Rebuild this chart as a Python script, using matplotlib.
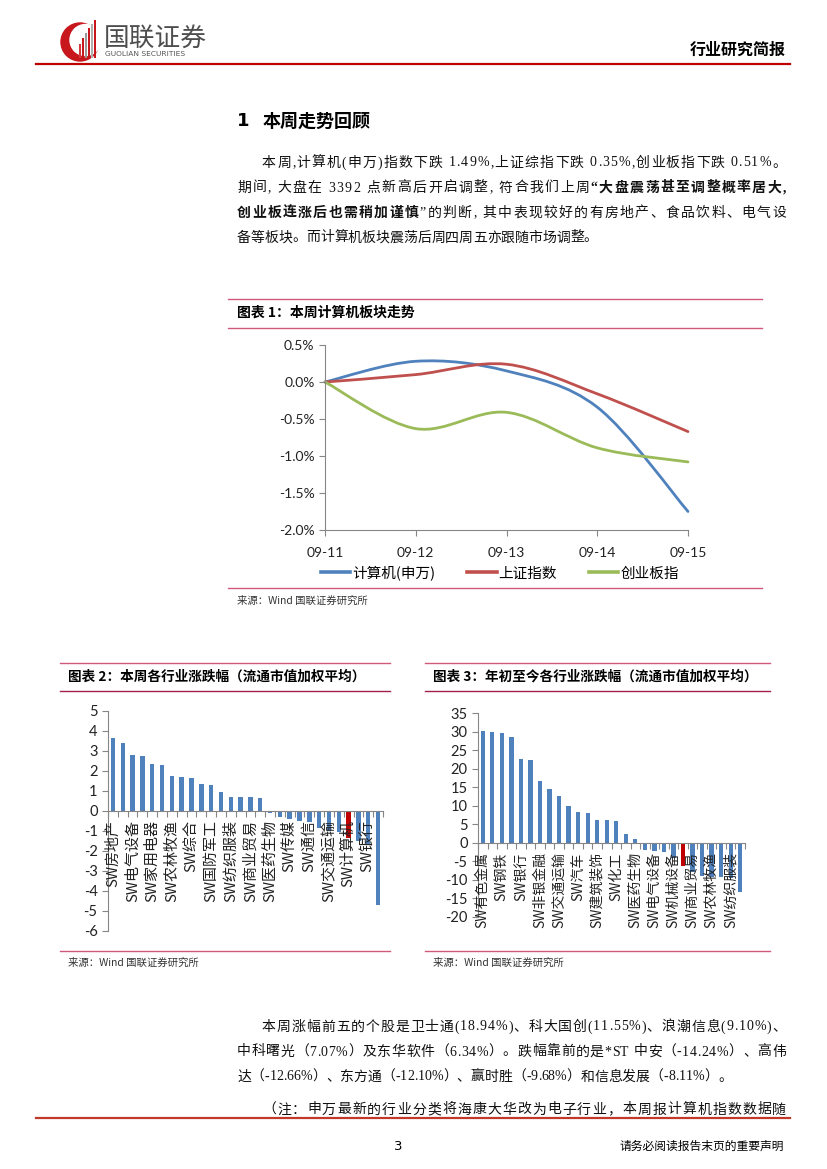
import matplotlib
matplotlib.use('Agg')
import matplotlib.pyplot as plt
import numpy as np
from matplotlib.path import Path
from matplotlib.patches import PathPatch, Circle, Rectangle
from matplotlib.lines import Line2D

plt.rcParams['font.family'] = ['Noto Sans CJK SC', 'DejaVu Sans']
plt.rcParams['axes.unicode_minus'] = False

W, H = 827, 1169

# ---- 图表1 数据 ----
dates = ['09-11', '09-12', '09-13', '09-14', '09-15']
computer = [0.0, 0.28, 0.15, -0.34, -1.75]
shanghai = [0.0, 0.10, 0.24, -0.16, -0.67]
chinext = [0.0, -0.63, -0.41, -0.89, -1.08]
series_names = ['计算机(申万)', '上证指数', '创业板指']
line_colors = ['#4F81BD', '#C0504D', '#9BBB59']

# ---- 图表2 数据（本周） ----
week_labels = ['SW房地产', '', 'SW电气设备', '', 'SW家用电器', '', 'SW农林牧渔', '',
               'SW综合', '', 'SW国防军工', '', 'SW纺织服装', '', 'SW商业贸易', '',
               'SW医药生物', '', 'SW传媒', '', 'SW通信', '', 'SW交通运输', '',
               'SW计算机', '', 'SW银行', '']
week_values = [3.65, 3.37, 2.77, 2.75, 2.32, 2.27, 1.75, 1.68, 1.65, 1.35, 1.28, 0.93,
               0.68, 0.67, 0.68, 0.65, -0.10, -0.30, -0.42, -0.52, -0.58, -0.85,
               -1.00, -1.05, -1.38, -1.50, -1.65, -4.72]

# ---- 图表3 数据（年初至今） ----
ytd_labels = ['SW有色金属', '', 'SW钢铁', '', 'SW银行', '', 'SW非银金融', '',
              'SW交通运输', '', 'SW汽车', '', 'SW建筑装饰', '', 'SW化工', '',
              'SW医药生物', '', 'SW电气设备', '', 'SW机械设备', 'SW计算机',
              'SW商业贸易', '', 'SW农林牧渔', '', 'SW纺织服装', '']
ytd_values = [30.3, 29.9, 29.6, 28.5, 22.7, 22.3, 16.6, 14.5, 12.7, 9.9, 8.2, 8.1,
              6.2, 6.1, 5.8, 2.3, 1.1, -2.0, -2.3, -2.5, -4.2, -6.3, -7.8, -9.0,
              -9.2, -9.4, -9.6, -13.4]
highlight = 'SW计算机'

BLUE = '#4F81BD'
RED = '#C00000'
PINK = '#D0587A'
GRAY = '#868686'
BODY_FONT = ['Liberation Serif', 'Noto Sans CJK SC']


def rect(l, t, r, b):
    return [l / W, 1 - b / H, (r - l) / W, (b - t) / H]


fig = plt.figure(figsize=(W / 100, H / 100), dpi=100)
pg = fig.add_axes([0, 0, 1, 1])
pg.set_xlim(0, W)
pg.set_ylim(H, 0)
pg.axis('off')
renderer = fig.canvas.get_renderer()


def text_line(x, y, segs, size=10, right=None, color='#111111'):
    # 逐字放置，right 给定时两端对齐
    chars = [(c, wt) for s, wt in segs for c in s]
    items = [pg.text(0, y, c, fontsize=size, fontweight=wt, va='center',
                     ha='left', color=color, family=BODY_FONT) for c, wt in chars]
    widths = [t.get_window_extent(renderer).width for t in items]
    gap = 0
    if right is not None and len(items) > 1:
        gap = (right - x - sum(widths)) / (len(items) - 1)
    cx = x
    for t, w in zip(items, widths):
        t.set_x(cx)
        cx += w + gap


# ---- 页眉 ----
pg.add_patch(Circle((80, 42), 19, color='#C8161D'))
pg.add_patch(Circle((85.5, 40), 15.5, color='white'))
for bx, top, c in [(79, 44, '#D23A3F'), (82, 38, '#C8161D'), (85, 33, '#9A9A9A'),
                   (88, 28, '#C8161D'), (91, 24, '#B0B0B0'), (94, 20, '#C8161D')]:
    pg.add_patch(Rectangle((bx, top), 1.6, 58 - top, color=c, lw=0))
pg.text(104, 39, '国联证券', fontsize=18.5, color='#4D4D4D', va='center', ha='left')
pg.text(105, 54, 'GUOLIAN SECURITIES', fontsize=5.4, color='#555555',
        va='center', ha='left', family='DejaVu Sans')
pg.text(786, 50, '行业研究简报', fontsize=11.5, fontweight='bold', va='center', ha='right')
pg.plot([36, 790], [64, 64], color='#C00000', lw=1.6)

# ---- 正文 ----
pg.text(237, 121, '1', fontsize=13, fontweight='bold', va='center', family='DejaVu Sans')
pg.text(263, 121, '本周走势回顾', fontsize=13, fontweight='bold', va='center')
text_line(262, 163, [('本周,计算机(申万)指数下跌 1.49%,上证综指下跌 0.35%,创业板指下跌 0.51%。', 'normal')], right=786)
text_line(237, 188, [('期间, 大盘在 3392 点新高后开启调整, 符合我们上周', 'normal'),
                     ('“大盘震荡甚至调整概率居大,', 'bold')], right=786)
text_line(237, 213, [('创业板连涨后也需稍加谨慎', 'bold'),
                     ('”的判断, 其中表现较好的有房地产、食品饮料、电气设', 'normal')], right=786)
text_line(237, 238, [('备等板块。而计算机板块震荡后周四周五亦跟随市场调整。', 'normal')])

# ---- 图表1 框 ----
pg.plot([228, 762], [299, 299], color=PINK, lw=1)
pg.plot([228, 762], [328, 328], color=PINK, lw=1)
pg.plot([228, 762], [588, 588], color=PINK, lw=1)
pg.text(237, 313, '图表 1：本周计算机板块走势', fontsize=10, fontweight='bold', va='center')
pg.text(237, 601, '来源：Wind 国联证券研究所', fontsize=7.5, color='#333333', va='center')


def smooth_path(ys):
    pts = np.column_stack([np.arange(len(ys), dtype=float), ys])
    ext = np.vstack([pts[0], pts, pts[-1]])
    verts, codes = [pts[0]], [Path.MOVETO]
    for i in range(len(pts) - 1):
        p0, p1, p2, p3 = ext[i], ext[i + 1], ext[i + 2], ext[i + 3]
        verts += [p1 + (p2 - p0) / 6, p2 - (p3 - p1) / 6, p2]
        codes += [Path.CURVE4] * 3
    return Path(verts, codes)


ax1 = fig.add_axes(rect(325, 345, 688, 530))
ax1.patch.set_alpha(0)
handles = []
for ys, col, name in zip([computer, shanghai, chinext], line_colors, series_names):
    ax1.add_patch(PathPatch(smooth_path(ys), fill=False, edgecolor=col, lw=2,
                            capstyle='round', clip_on=False))
    handles.append(Line2D([], [], color=col, lw=2.6, label=name))
ax1.set_xlim(0, 4)
ax1.set_ylim(-2.0, 0.5)
ax1.set_xticks(range(len(dates)))
ax1.set_xticklabels(dates)
yt = np.arange(-2.0, 0.51, 0.5)
ax1.set_yticks(yt)
ax1.set_yticklabels([f'{v:.1f}%' for v in yt])
for s in ['top', 'right']:
    ax1.spines[s].set_visible(False)
for s in ['left', 'bottom']:
    ax1.spines[s].set_color(GRAY)
ax1.tick_params(colors=GRAY, labelcolor='#222222', labelsize=10, length=4)
ax1.tick_params(axis='x', pad=8)
for t in ax1.get_xticklabels() + ax1.get_yticklabels():
    t.set_family(['Lato', 'DejaVu Sans'])
fig.legend(handles=handles, loc='center', bbox_to_anchor=(500 / W, 1 - 573 / H),
           ncol=3, frameon=False, fontsize=10.5, handlelength=2.0,
           handletextpad=0.15, columnspacing=2.2)

# ---- 图表2、3 框 ----
for l, r, title in [(60, 390, '图表 2：本周各行业涨跌幅（流通市值加权平均）'),
                    (425, 770, '图表 3：年初至今各行业涨跌幅（流通市值加权平均）')]:
    pg.plot([l, r], [663, 663], color=PINK, lw=1)
    pg.plot([l, r], [691, 691], color='#A02050', lw=1)
    pg.plot([l, r], [951, 951], color=PINK, lw=1)
    pg.text(l + 8, 677, title, fontsize=9.8, fontweight='bold', va='center')
    pg.text(l + 8, 963, '来源：Wind 国联证券研究所', fontsize=7.5, color='#333333', va='center')


def bar_chart(box, labels, values, ylim, step, lab_size):
    ax = fig.add_axes(rect(*box))
    ax.patch.set_alpha(0)
    n = len(values)
    x = np.arange(n)
    colors = [RED if lb == highlight else BLUE for lb in labels]
    ax.bar(x, values, width=0.45, color=colors, zorder=2)
    ax.set_xlim(-0.5, n - 0.5)
    ax.set_ylim(*ylim)
    ax.set_yticks(np.arange(ylim[0], ylim[1] + 0.01, step))
    ax.set_xticks(np.arange(-0.5, n, 1))
    ax.set_xticklabels([])
    ax.spines['bottom'].set_position(('data', 0))
    for s in ['top', 'right']:
        ax.spines[s].set_visible(False)
    for s in ['left', 'bottom']:
        ax.spines[s].set_color(GRAY)
    ax.tick_params(colors=GRAY, labelcolor='#222222', labelsize=10.5, length=4)
    for t in ax.get_yticklabels():
        t.set_family(['Lato', 'DejaVu Sans'])
    for i, lb in enumerate(labels):
        if lb and i % 2 == 0:
            ax.annotate(lb, (i, 0), xytext=(0, -7), textcoords='offset points',
                        rotation=90, ha='center', va='top', fontsize=lab_size,
                        color='#222222', zorder=3)
    return ax


bar_chart((108, 710.7, 383, 930.7), week_labels, week_values, (-6, 5), 1, 10.8)
bar_chart((478, 713.3, 745, 916.7), ytd_labels, ytd_values, (-20, 35), 5, 10)

# ---- 下方正文 ----
text_line(262, 1027, [('本周涨幅前五的个股是卫士通(18.94%)、科大国创(11.55%)、浪潮信息(9.10%)、', 'normal')], right=786)
text_line(237, 1052, [('中科曙光（7.07%）及东华软件（6.34%）。跌幅靠前的是*ST 中安（-14.24%）、高伟', 'normal')], right=786)
text_line(237, 1077, [('达（-12.66%）、东方通（-12.10%）、赢时胜（-9.68%）和信息发展（-8.11%）。', 'normal')])
text_line(262, 1110, [('（注：申万最新的行业分类将海康大华改为电子行业，本周报计算机指数数据随', 'normal')], right=786)

# ---- 页脚 ----
pg.plot([36, 790], [1118, 1118], color='#C0392B', lw=1.6)
pg.text(398, 1146, '3', fontsize=9.5, va='center', ha='center', family='DejaVu Sans')
pg.text(784, 1146, '请务必阅读报告末页的重要声明', fontsize=8.5, va='center', ha='right')

fig.savefig('out.png', dpi=100)
